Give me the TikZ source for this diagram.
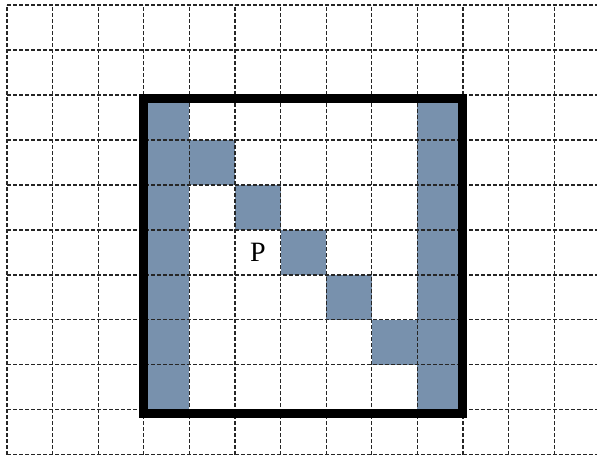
\documentclass[tikz,border=0pt]{standalone}
\usepackage{fontspec}
\setmainfont{Liberation Serif}
\usepackage{tikz}
\definecolor{cellblue}{RGB}{120,145,173}

\begin{document}
\begin{tikzpicture}[x=45.6pt,y=45pt]
		\useasboundingbox (-0.154,-0.089) rectangle (12.94,10.111);
		\begin{scope}
            [
                filled/.style = {fill=cellblue},
                gridline/.style = {draw=black!85, line width=1.1pt, dash pattern=on 4pt off 2pt}
            ]
			% shaded cells
			\fill[filled] (3,1) rectangle (4,8);
			\fill[filled] (9,1) rectangle (10,8);
			\fill[filled] (4,6) rectangle (5,7);
			\fill[filled] (5,5) rectangle (6,6);
			\fill[filled] (6,4) rectangle (7,5);
			\fill[filled] (7,3) rectangle (8,4);
			\fill[filled] (8,2) rectangle (9,3);

			% dashed grid
			\foreach \x in {0,...,12}
				\draw[gridline] (\x,0) -- (\x,10);
			\foreach \y in {0,...,10}
				\draw[gridline] (0,\y) -- (13,\y);
		\end{scope}
		\begin{scope}
            [
                frame/.style = {draw=black, line width=9pt, line join=miter}
            ]
			\draw[frame] (3,0.93) rectangle (10,7.92);
			\node(p) at (5.5,4.5) {\fontsize{28}{30}\selectfont P};
		\end{scope}
    \end{tikzpicture}
\end{document}
